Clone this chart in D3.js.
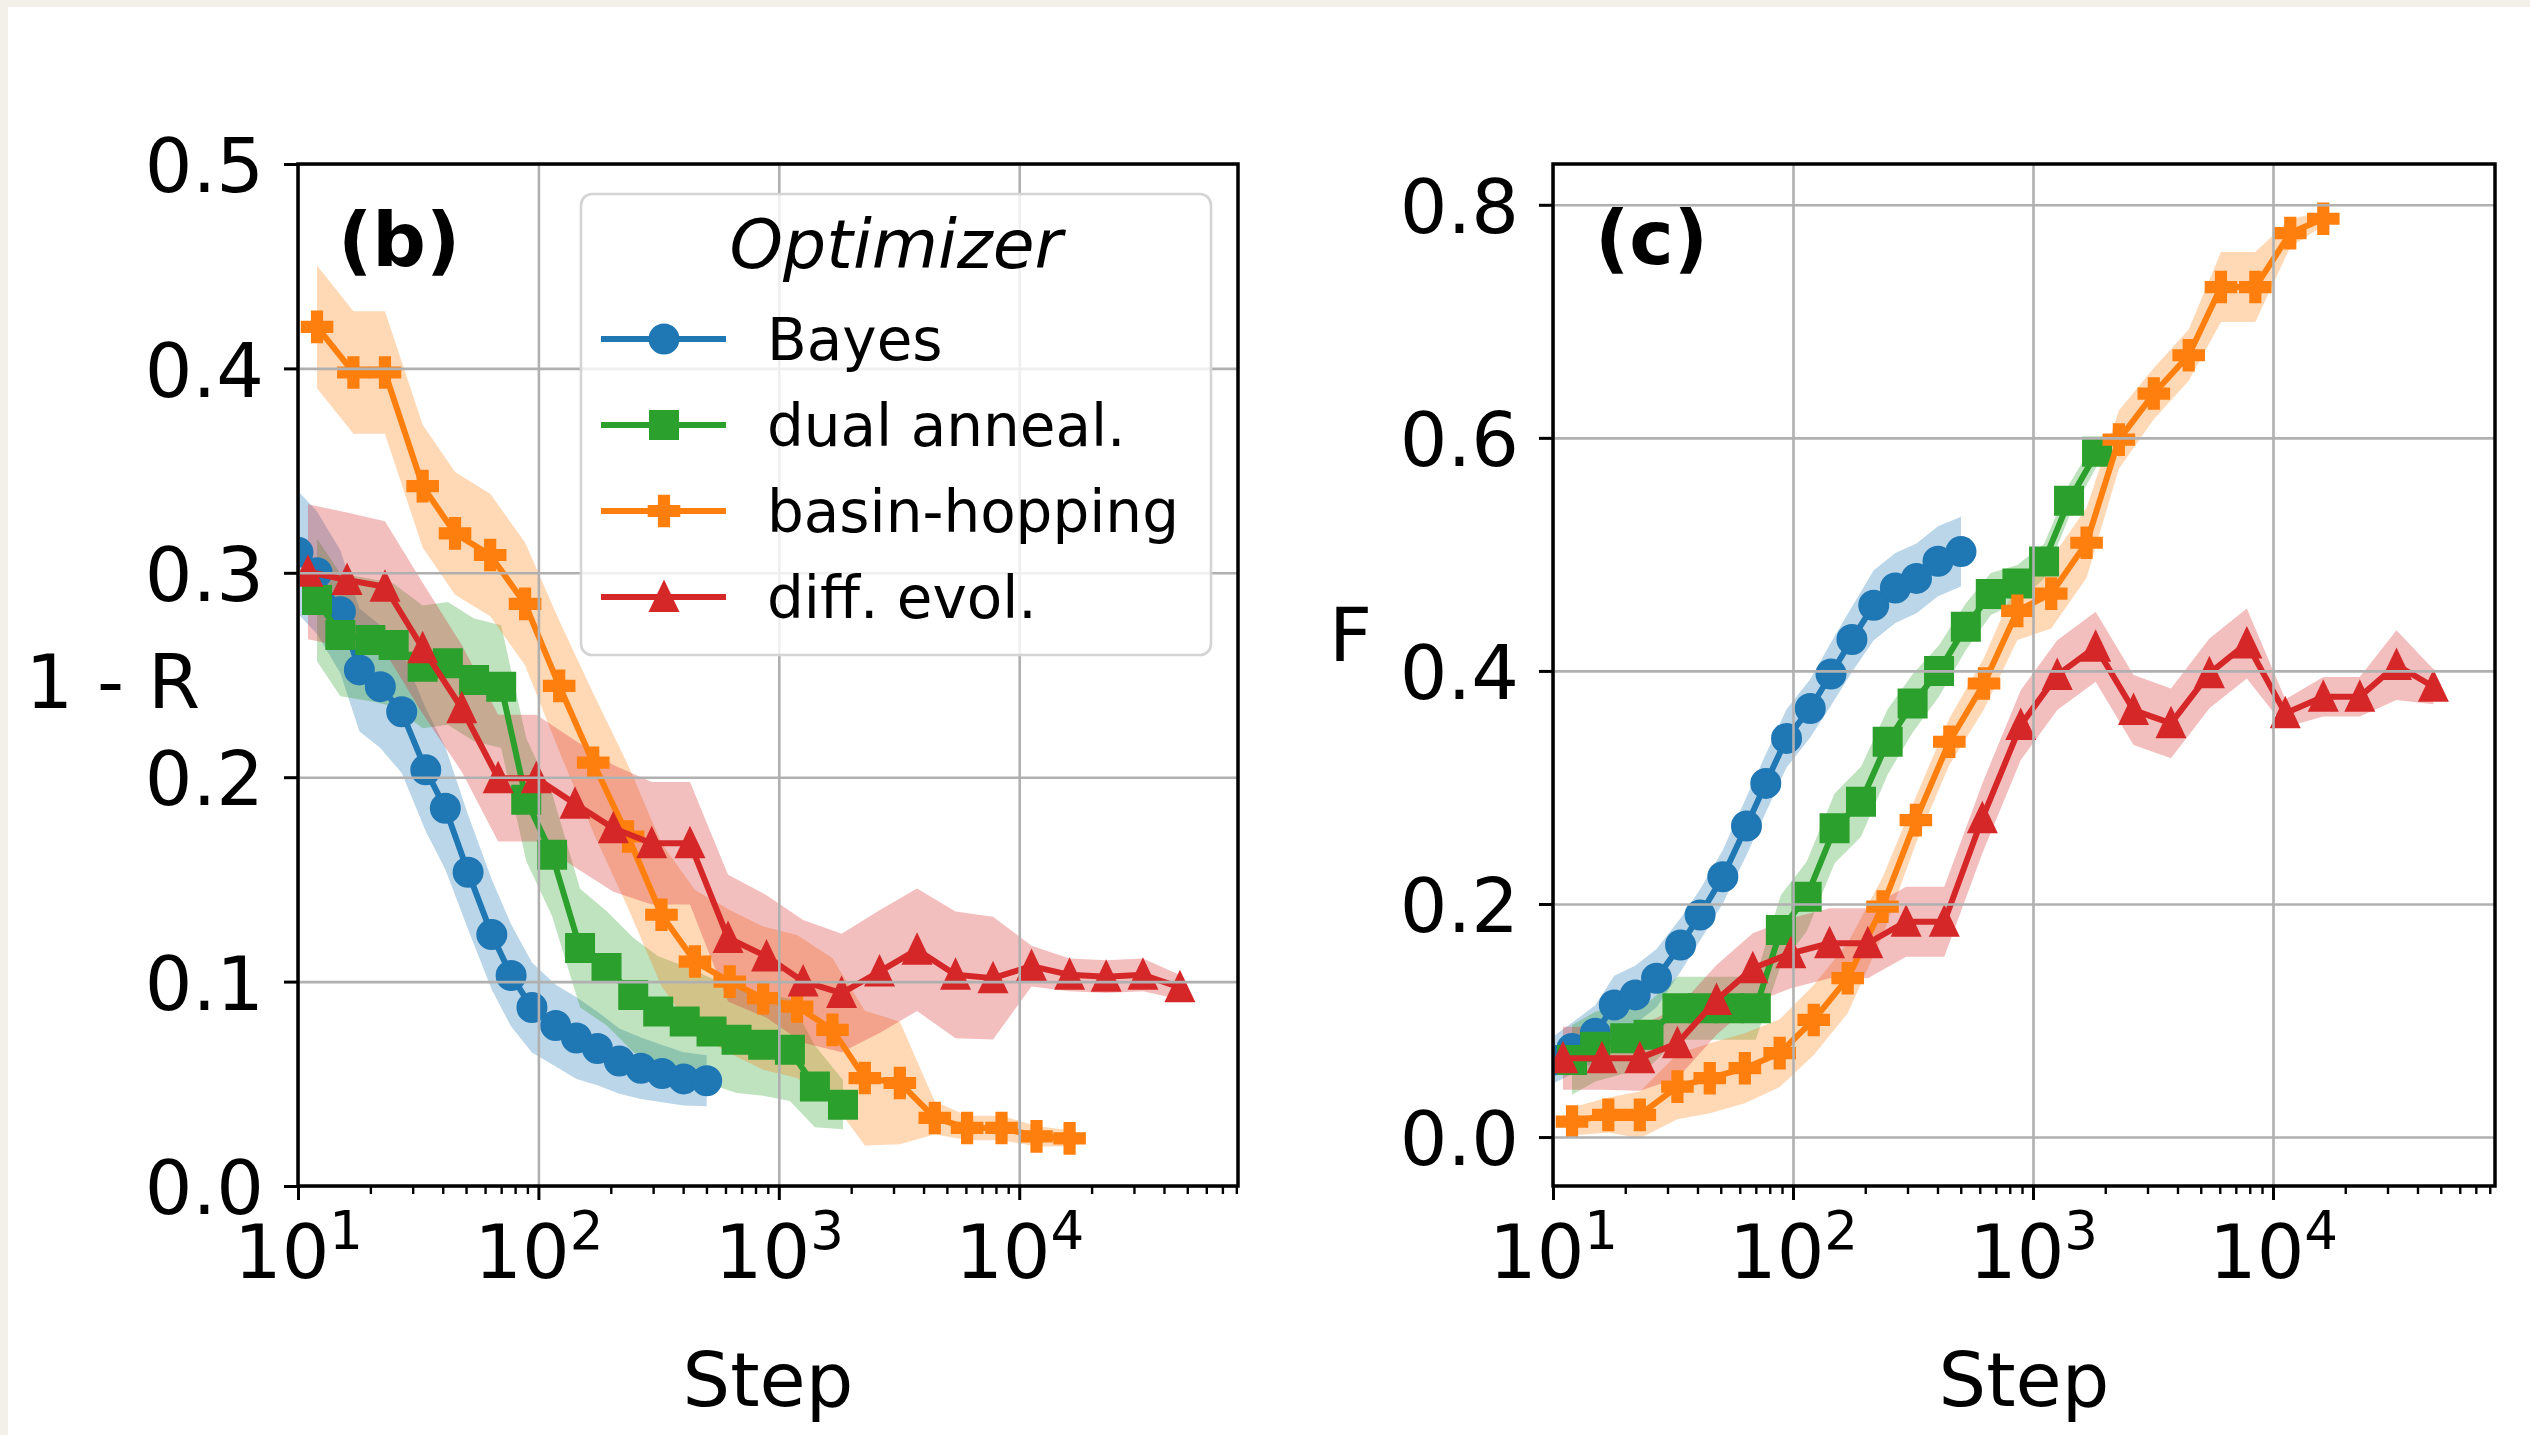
<!DOCTYPE html>
<html>
<head>
<meta charset="utf-8">
<script src="https://cdn.jsdelivr.net/npm/d3@7"></script>
<style>
  html, body { margin: 0; padding: 0; background: #f3f0ea; }
  svg { display: block; font-family: "DejaVu Sans", sans-serif; }
</style>
</head>
<body>
<svg id="chart" width="2530" height="1435"></svg>
<script>
var bayesSteps = [10, 12, 15, 18, 22, 27, 34, 41, 51, 64, 77, 94, 118, 144, 176, 217, 267, 327, 402, 501];
var dualSteps  = [12, 15, 20, 25, 33, 42, 54, 70, 89, 114, 149, 192, 248, 315, 406, 525, 667, 861, 1112, 1413, 1849];
var basinSteps = [12, 17, 23, 33, 45, 63, 88, 122, 169, 236, 325, 448, 625, 861, 1191, 1672, 2279, 3187, 4455, 6070, 8440, 11800, 16200];
var evolSteps  = [11, 16, 23, 33, 48, 68, 98, 142, 205, 296, 427, 615, 889, 1262, 1824, 2624, 3758, 5433, 7780, 11250, 16200, 23000, 32700, 46600];

// panel (b): 1 - R, mean and half width of the shaded band
var bayesB = [0.31, 0.30, 0.281, 0.2525, 0.2443, 0.232, 0.2036, 0.1848, 0.1535, 0.123, 0.103, 0.0873, 0.0785, 0.0724, 0.0673, 0.0611, 0.0576, 0.055, 0.0524, 0.0515];
var bayesBErr = [0.03, 0.03, 0.03, 0.03, 0.03, 0.03, 0.03, 0.03, 0.028, 0.027, 0.025, 0.022, 0.02, 0.02, 0.018, 0.016, 0.015, 0.014, 0.013, 0.0125];
var dualB = [0.2867, 0.2696, 0.2671, 0.2647, 0.254, 0.2557, 0.2476, 0.2443, 0.189, 0.162, 0.1164, 0.1066, 0.0935, 0.0854, 0.0805, 0.0756, 0.0715, 0.0691, 0.0666, 0.0487, 0.0398];
var dualBErr = [0.03, 0.03, 0.03, 0.03, 0.03, 0.03, 0.03, 0.03, 0.03, 0.03, 0.029, 0.028, 0.028, 0.027, 0.027, 0.026, 0.026, 0.025, 0.025, 0.02, 0.012];
var basinB = [0.4203, 0.398, 0.398, 0.3424, 0.3193, 0.3087, 0.2848, 0.2447, 0.2071, 0.171, 0.1327, 0.1098, 0.1, 0.0919, 0.0878, 0.0764, 0.0528, 0.0504, 0.0333, 0.0284, 0.0284, 0.0243, 0.0233];
var basinBErr = [0.03, 0.03, 0.03, 0.03, 0.03, 0.03, 0.03, 0.032, 0.034, 0.035, 0.035, 0.035, 0.035, 0.035, 0.035, 0.035, 0.033, 0.03, 0.008, 0.006, 0.006, 0.005, 0.004];
var evolB = [0.3005, 0.2965, 0.2932, 0.2631, 0.2337, 0.1995, 0.1995, 0.187, 0.175, 0.1677, 0.1677, 0.1213, 0.1123, 0.1001, 0.0944, 0.1049, 0.1156, 0.1033, 0.1017, 0.1076, 0.1033, 0.1024, 0.1033, 0.0972];
var evolBErr = [0.033, 0.033, 0.032, 0.032, 0.031, 0.031, 0.031, 0.031, 0.031, 0.03, 0.03, 0.031, 0.03, 0.03, 0.029, 0.03, 0.03, 0.031, 0.03, 0.01, 0.008, 0.008, 0.008, 0.006];

// panel (c): F
var bayesC = [0.066, 0.076, 0.0891, 0.1134, 0.122, 0.1363, 0.1648, 0.1906, 0.2234, 0.2669, 0.3035, 0.3421, 0.3678, 0.3973, 0.427, 0.4564, 0.4712, 0.4794, 0.4941, 0.5024];
var bayesCErr = [0.02, 0.022, 0.024, 0.025, 0.025, 0.025, 0.023, 0.022, 0.023, 0.025, 0.025, 0.025, 0.025, 0.027, 0.028, 0.03, 0.03, 0.03, 0.03, 0.03];
var dualC = [0.0662, 0.0776, 0.0848, 0.0877, 0.1106, 0.1106, 0.1106, 0.1106, 0.1777, 0.2063, 0.2649, 0.2877, 0.3392, 0.3721, 0.40, 0.438, 0.466, 0.475, 0.494, 0.546, 0.588];
var dualCErr = [0.03, 0.03, 0.03, 0.028, 0.027, 0.027, 0.027, 0.027, 0.03, 0.03, 0.03, 0.03, 0.028, 0.025, 0.022, 0.02, 0.018, 0.016, 0.015, 0.014, 0.012];
var basinC = [0.0133, 0.019, 0.019, 0.0433, 0.0505, 0.0591, 0.072, 0.1005, 0.1363, 0.1977, 0.272, 0.3392, 0.3892, 0.4515, 0.4663, 0.51, 0.5985, 0.638, 0.6709, 0.7294, 0.7294, 0.7757, 0.788];
var basinCErr = [0.012, 0.015, 0.02, 0.028, 0.03, 0.03, 0.029, 0.03, 0.03, 0.025, 0.02, 0.02, 0.022, 0.025, 0.03, 0.03, 0.025, 0.022, 0.022, 0.03, 0.03, 0.012, 0.006];
var evolC = [0.0677, 0.0677, 0.0677, 0.0805, 0.1177, 0.1449, 0.1577, 0.1663, 0.1663, 0.1848, 0.1848, 0.2735, 0.3535, 0.3964, 0.4207, 0.3664, 0.355, 0.3979, 0.4236, 0.3636, 0.3778, 0.3778, 0.405, 0.3864];
var evolCErr = [0.027, 0.027, 0.028, 0.03, 0.03, 0.03, 0.03, 0.03, 0.03, 0.03, 0.03, 0.03, 0.03, 0.03, 0.03, 0.03, 0.03, 0.03, 0.03, 0.012, 0.017, 0.017, 0.03, 0.015];

var xMajor = [10, 100, 1000, 10000];
var yTicksB = [0, 0.1, 0.2, 0.3, 0.4, 0.5];
var yTicksC = [0, 0.2, 0.4, 0.6, 0.8];

var series = [
  { name: "Bayes", color: "#1f77b4", marker: "circle", steps: bayesSteps, b: bayesB, bErr: bayesBErr, c: bayesC, cErr: bayesCErr },
  { name: "dual anneal.", color: "#2ca02c", marker: "square", steps: dualSteps, b: dualB, bErr: dualBErr, c: dualC, cErr: dualCErr },
  { name: "basin-hopping", color: "#ff7f0e", marker: "plus", steps: basinSteps, b: basinB, bErr: basinBErr, c: basinC, cErr: basinCErr },
  { name: "diff. evol.", color: "#d62728", marker: "triangle", steps: evolSteps, b: evolB, bErr: evolBErr, c: evolC, cErr: evolCErr }
];

var plotTop = 164, plotBottom = 1186;
var panels = [
  { key: "b", left: 298, right: 1238, xMax: Math.pow(10, 4.91), yDomain: [0, 0.5], yTicks: yTicksB,
    tag: "(b)", tagX: 338, tagY: 266, ylabel: "1 - R", ylabelX: 200, ylabelY: 708, ylabelAnchor: "end" },
  { key: "c", left: 1553, right: 2495, xMax: Math.pow(10, 4.925), yDomain: [-0.042, 0.835], yTicks: yTicksC,
    tag: "(c)", tagX: 1595, tagY: 264, ylabel: "F", ylabelX: 1329, ylabelY: 661, ylabelAnchor: "start" }
];

var svg = d3.select("#chart");
svg.append("rect")
  .attr("x", 8).attr("y", 7)
  .attr("width", 2522).attr("height", 1428)
  .attr("fill", "#ffffff");

function markerPath(type) {
  if (type === "circle") return d3.symbol().type(d3.symbolCircle).size(Math.PI * 14.5 * 14.5)();
  if (type === "square") return d3.symbol().type(d3.symbolSquare).size(28 * 28)();
  if (type === "plus") return d3.symbol().type(d3.symbolCross).size(520)();
  // matplotlib style "^": isoceles, centred at half height
  return "M0,-17.5L15.5,15L-15.5,15Z";
}

panels.forEach(function(p) {
  var x = d3.scaleLog().domain([10, p.xMax]).range([p.left, p.right]);
  var y = d3.scaleLinear().domain(p.yDomain).range([plotBottom, plotTop]);
  var w = p.right - p.left, h = plotBottom - plotTop;

  var g = svg.append("g").attr("class", "panel-" + p.key);

  g.append("clipPath").attr("id", "clip-" + p.key)
    .append("rect").attr("x", p.left).attr("y", plotTop).attr("width", w).attr("height", h);

  var data = g.append("g").attr("clip-path", "url(#clip-" + p.key + ")");

  // shaded bands first
  series.forEach(function(s) {
    var pts = s.steps.map(function(st, i) { return { step: st, v: s[p.key][i], e: s[p.key + "Err"][i] }; });
    var band = d3.area()
      .x(function(d) { return x(d.step); })
      .y0(function(d) { return y(d.v - d.e); })
      .y1(function(d) { return y(d.v + d.e); });
    data.append("path")
      .datum(pts)
      .attr("d", band)
      .attr("fill", s.color)
      .attr("fill-opacity", 0.3);
  });

  // grid
  var gx = g.append("g")
    .attr("transform", "translate(0," + plotBottom + ")")
    .call(d3.axisBottom(x).tickValues(xMajor).tickSize(-h).tickFormat(""));
  gx.select(".domain").remove();
  gx.selectAll("line").attr("stroke", "#b0b0b0").attr("stroke-width", 2.6);

  var gy = g.append("g")
    .attr("transform", "translate(" + p.left + ",0)")
    .call(d3.axisLeft(y).tickValues(p.yTicks).tickSize(-w).tickFormat(""));
  gy.select(".domain").remove();
  gy.selectAll("line").attr("stroke", "#b0b0b0").attr("stroke-width", 2.6);

  // lines and markers
  series.forEach(function(s) {
    var pts = s.steps.map(function(st, i) { return { step: st, v: s[p.key][i] }; });
    var line = d3.line()
      .x(function(d) { return x(d.step); })
      .y(function(d) { return y(d.v); });
    data.append("path")
      .datum(pts)
      .attr("d", line)
      .attr("fill", "none")
      .attr("stroke", s.color)
      .attr("stroke-width", 6)
      .attr("stroke-linejoin", "round");
    data.selectAll(null)
      .data(pts)
      .enter().append("path")
      .attr("d", markerPath(s.marker))
      .attr("transform", function(d) { return "translate(" + x(d.step) + "," + y(d.v) + ")"; })
      .attr("fill", s.color)
      .attr("stroke", s.color)
      .attr("stroke-width", s.marker === "triangle" ? 0 : 2);
  });

  // frame
  g.append("rect")
    .attr("x", p.left).attr("y", plotTop)
    .attr("width", w).attr("height", h)
    .attr("fill", "none")
    .attr("stroke", "#000")
    .attr("stroke-width", 3.5);

  // x ticks
  var minor = [];
  [10, 100, 1000, 10000].forEach(function(dec) {
    for (var k = 2; k <= 9; k++) { if (k * dec < p.xMax) minor.push(k * dec); }
  });
  var xm = g.append("g")
    .attr("transform", "translate(0," + plotBottom + ")")
    .call(d3.axisBottom(x).tickValues(minor).tickSize(8).tickFormat(""));
  xm.select(".domain").remove();
  xm.selectAll("line").attr("stroke", "#000").attr("stroke-width", 2.4);

  var xa = g.append("g")
    .attr("transform", "translate(0," + plotBottom + ")")
    .call(d3.axisBottom(x).tickValues(xMajor).tickSize(14));
  xa.select(".domain").remove();
  xa.selectAll("line").attr("stroke", "#000").attr("stroke-width", 3);
  xa.selectAll(".tick text")
    .attr("y", 92).attr("dy", null)
    .attr("fill", "#000")
    .attr("font-size", 75)
    .attr("font-family", "DejaVu Sans")
    .text(null)
    .each(function(d) {
      var t = d3.select(this);
      t.append("tspan").text("10");
      t.append("tspan").attr("font-size", 53).attr("dy", -29).text(String(Math.round(Math.log10(d))));
    });

  // y ticks
  var ya = g.append("g")
    .attr("transform", "translate(" + p.left + ",0)")
    .call(d3.axisLeft(y).tickValues(p.yTicks).tickSize(14).tickPadding(20).tickFormat(d3.format(".1f")));
  ya.select(".domain").remove();
  ya.selectAll("line").attr("stroke", "#000").attr("stroke-width", 3);
  ya.selectAll(".tick text")
    .attr("dy", "0.37em")
    .attr("fill", "#000")
    .attr("font-size", 75)
    .attr("font-family", "DejaVu Sans");

  // axis labels
  g.append("text")
    .attr("x", (p.left + p.right) / 2).attr("y", 1406)
    .attr("text-anchor", "middle")
    .attr("font-size", 75)
    .text("Step");
  g.append("text")
    .attr("x", p.ylabelX).attr("y", p.ylabelY)
    .attr("text-anchor", p.ylabelAnchor)
    .attr("font-size", 75)
    .text(p.ylabel);

  // panel tag
  g.append("text")
    .attr("x", p.tagX).attr("y", p.tagY)
    .attr("font-size", 75)
    .attr("font-weight", "bold")
    .text(p.tag);
});

// legend
var legend = svg.append("g").attr("class", "legend");
legend.append("rect")
  .attr("x", 581).attr("y", 194)
  .attr("width", 630).attr("height", 461)
  .attr("rx", 11).attr("ry", 11)
  .attr("fill", "#fff").attr("fill-opacity", 0.8)
  .attr("stroke", "#d4d4d4").attr("stroke-width", 2.6);
legend.append("text")
  .attr("x", 896).attr("y", 268)
  .attr("text-anchor", "middle")
  .attr("font-size", 68)
  .attr("font-style", "italic")
  .text("Optimizer");

var rows = legend.selectAll(".row")
  .data(series)
  .enter().append("g")
  .attr("class", "row")
  .attr("transform", function(d, i) { return "translate(0," + (339 + i * 86) + ")"; });
rows.append("line")
  .attr("x1", 601).attr("x2", 726)
  .attr("stroke", function(d) { return d.color; })
  .attr("stroke-width", 6);
rows.append("path")
  .attr("d", function(d) { return markerPath(d.marker); })
  .attr("transform", "translate(664,0)")
  .attr("fill", function(d) { return d.color; })
  .attr("stroke", function(d) { return d.color; })
  .attr("stroke-width", function(d) { return d.marker === "triangle" ? 0 : 2; });
rows.append("text")
  .attr("x", 767).attr("y", 21)
  .attr("font-size", 58)
  .text(function(d) { return d.name; });
</script>
</body>
</html>
